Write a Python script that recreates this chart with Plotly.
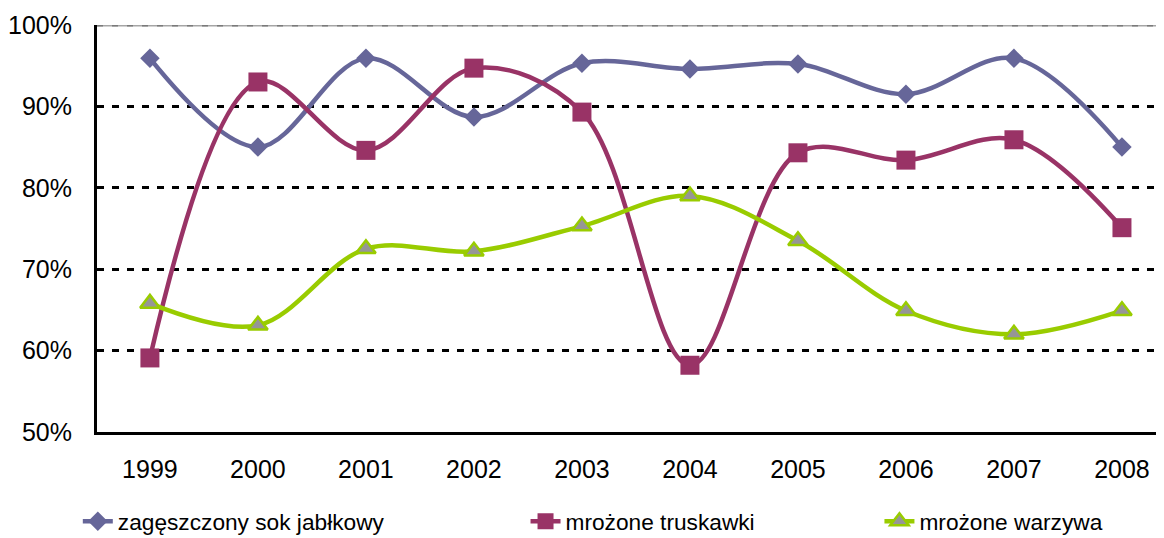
import plotly.graph_objects as go

years = ["1999", "2000", "2001", "2002", "2003", "2004", "2005", "2006", "2007", "2008"]
sok = [95.9, 85.0, 95.9, 88.7, 95.3, 94.6, 95.2, 91.5, 95.9, 85.0]
truskawki = [59.1, 93.0, 84.6, 94.7, 89.3, 58.2, 84.3, 83.4, 85.9, 75.1]
warzywa = [65.8, 63.1, 72.5, 72.2, 75.3, 79.0, 73.5, 64.9, 62.0, 64.9]
names = ["zagęszczony sok jabłkowy", "mrożone truskawki", "mrożone warzywa"]
ytick_vals = [50, 60, 70, 80, 90, 100]
ytick_text = ["50%", "60%", "70%", "80%", "90%", "100%"]

FONT = "Liberation Sans, Arial, sans-serif"
xi = list(range(len(years)))

fig = go.Figure()
fig.add_trace(go.Scatter(
    x=xi, y=sok, name=names[0], mode="lines+markers", legend="legend",
    line=dict(color="#666699", width=4.5, shape="spline", smoothing=1),
    marker=dict(symbol="diamond", size=15, color="#666699"),
))
fig.add_trace(go.Scatter(
    x=xi, y=truskawki, name=names[1], mode="lines+markers", legend="legend2",
    line=dict(color="#993366", width=4.5, shape="spline", smoothing=1),
    marker=dict(symbol="square", size=19, color="#993366"),
))
fig.add_trace(go.Scatter(
    x=xi, y=warzywa, name=names[2], mode="lines+markers", legend="legend3",
    line=dict(color="#99CC00", width=4.5, shape="spline", smoothing=1),
    marker=dict(symbol="triangle-up", size=17, color="#969696",
                line=dict(color="#99CC00", width=2.5)),
))

# top (100%) border line: gray with darker dashes
fig.add_shape(type="line", xref="paper", yref="y", x0=0, x1=1, y0=100, y1=100,
              line=dict(color="#a6a6a6", width=3), layer="above")
fig.add_shape(type="line", xref="paper", yref="y", x0=0, x1=1, y0=100, y1=100,
              line=dict(color="#7a7a7a", width=3, dash="6px,9px"), layer="above")

leg_common = dict(orientation="h", xanchor="left", y=-0.22, yanchor="middle",
                  font=dict(size=22.7, family=FONT), bgcolor="rgba(0,0,0,0)")
fig.update_layout(
    width=1156, height=530,
    margin=dict(l=89, r=1, t=17, b=106, autoexpand=False),
    paper_bgcolor="white", plot_bgcolor="white",
    font=dict(family=FONT, color="black", size=21),
    showlegend=True,
    legend=dict(x=-0.018, **leg_common),
    legend2=dict(x=0.402, **leg_common),
    legend3=dict(x=0.734, **leg_common),
)
fig.update_xaxes(
    range=[-0.49, 9.38], tickvals=xi, ticktext=years, automargin=False,
    showline=True, linecolor="black", linewidth=3,
    showgrid=False, zeroline=False, ticks="",
    tickfont=dict(size=25, family=FONT), ticklabelstandoff=13,
)
fig.update_yaxes(
    range=[50, 100], tickvals=ytick_vals, ticktext=ytick_text, automargin=False,
    showline=True, linecolor="black", linewidth=3,
    showgrid=True, gridcolor="black", gridwidth=3, griddash="7px,8px",
    zeroline=False, ticks="",
    tickfont=dict(size=25, family=FONT), ticklabelstandoff=17,
)

fig.write_html("out.html")
